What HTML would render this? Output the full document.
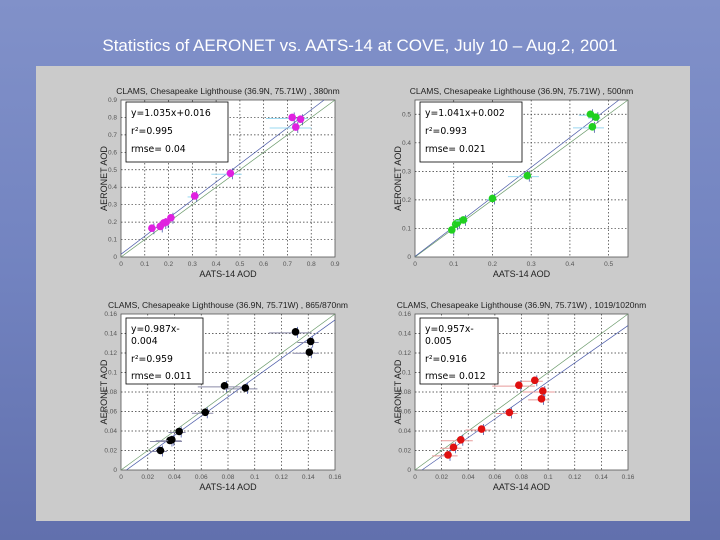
<!DOCTYPE html>
<html><head><meta charset="utf-8"><style>
body{margin:0;width:720px;height:540px;overflow:hidden;font-family:"Liberation Sans",sans-serif}
#bg{position:absolute;left:0;top:0;width:720px;height:540px;background:linear-gradient(180deg,#8191c9 0%,#7283c0 50%,#6170ad 100%)}
#title{position:absolute;left:0;width:720px;top:36px;text-align:center;color:#fff;font-size:17px}
#panel{position:absolute;left:36px;top:66px;width:654px;height:455px;background:#cbcbcb}
</style></head><body>
<div id="bg"></div>
<div id="title">Statistics of AERONET vs. AATS-14 at COVE, July 10 – Aug.2, 2001</div>
<div id="panel"></div>
<svg id="chart" width="720" height="540" style="position:absolute;left:0;top:0"></svg>
<script>
// 380nm
const x380 = [0.13,0.165,0.18,0.19,0.21,0.31,0.46,0.72,0.755,0.735];
const y380 = [0.165,0.175,0.195,0.2,0.225,0.35,0.48,0.80,0.79,0.745];
const e380 = [0.01,0.01,0.01,0.01,0.015,0.03,0.08,0.11,0.02,0.11];
// 500nm
const x500 = [0.095,0.105,0.11,0.125,0.2,0.29,0.453,0.467,0.458];
const y500 = [0.095,0.115,0.12,0.13,0.205,0.285,0.5,0.49,0.456];
const e500 = [0.01,0.01,0.01,0.02,0.015,0.05,0.03,0.02,0.05];
// 865/870nm
const x870 = [0.0295,0.0366,0.038,0.0435,0.063,0.0774,0.093,0.1305,0.1418,0.1408];
const y870 = [0.02,0.0303,0.031,0.0395,0.0592,0.0863,0.0842,0.1417,0.1318,0.1208];
const e870 = [0.008,0.015,0.012,0.008,0.01,0.02,0.015,0.02,0.01,0.012];
// 1019/1020nm
const x1020 = [0.0248,0.0289,0.0344,0.05,0.0709,0.078,0.09,0.096,0.095];
const y1020 = [0.0155,0.0233,0.031,0.042,0.059,0.087,0.092,0.081,0.073];
const e1020 = [0.012,0.01,0.015,0.012,0.01,0.02,0.01,0.015,0.01];
const ticks09 = ["0","0.1","0.2","0.3","0.4","0.5","0.6","0.7","0.8","0.9"];
const ticks05 = ["0","0.1","0.2","0.3","0.4","0.5"];
const ticks16 = ["0","0.02","0.04","0.06","0.08","0.1","0.12","0.14","0.16"];

const svg=document.getElementById('chart');
const NS='http://www.w3.org/2000/svg';
function mk(tag,attrs,parent){const e=document.createElementNS(NS,tag);for(const k in attrs)e.setAttribute(k,attrs[k]);(parent||svg).appendChild(e);return e;}

function panel(o){
  const g=mk('g',{});
  
  
  const sx=v=>o.x0+(v/o.max)*(o.x1-o.x0);
  const sy=v=>o.y1-(v/o.max)*(o.y1-o.y0);
  const bg=mk('rect',{x:o.x0,y:o.y0,width:o.x1-o.x0,height:o.y1-o.y0,fill:'#fff',stroke:'#555','stroke-width':0.8},g);
  
  
  o.ticks.forEach(t=>{
    const v=parseFloat(t);
    if(v>0&&v<o.max){
      mk('line',{x1:sx(v),x2:sx(v),y1:o.y0,y2:o.y1,stroke:'#333','stroke-width':0.7,'stroke-dasharray':'1.5,2'},g);
      mk('line',{x1:o.x0,x2:o.x1,y1:sy(v),y2:sy(v),stroke:'#333','stroke-width':0.7,'stroke-dasharray':'1.5,2'},g);
    }
    const tx=mk('text',{x:sx(v),y:o.y1+9,'font-size':6.5,fill:'#555','text-anchor':'middle'},g);tx.textContent=t;
    
    
    const ty=mk('text',{x:o.x0-4,y:sy(v)+2,'font-size':6.5,fill:'#555','text-anchor':'end'},g);ty.textContent=t;
    
    
  });
  mk('line',{x1:sx(0),y1:sy(0),x2:sx(o.max),y2:sy(o.max),stroke:'#6a9a6a','stroke-width':0.7},g);
  const fy=v=>o.a*v+o.b;
  let xa=Math.max(0,-o.b/o.a), xb=Math.min(o.max,(o.max-o.b)/o.a);
  const fl=mk('line',{x1:sx(xa),y1:sy(fy(xa)),x2:sx(xb),y2:sy(fy(xb)),stroke:'#4a5aa8','stroke-width':0.7},g);
  
  
  o.xs.forEach((xv,i)=>{
    const yv=o.ys[i], e=o.es[i];
    mk('line',{x1:sx(xv-e),x2:sx(xv+e*0.6),y1:sy(yv)+1,y2:sy(yv)+1,stroke:o.ecol,'stroke-width':1},g);
    mk('line',{x1:sx(xv)+2,x2:sx(xv)+2,y1:sy(yv)-5,y2:sy(yv)+6,stroke:'#4a5aa8','stroke-width':0.8},g);
    const c=mk('circle',{cx:sx(xv),cy:sy(yv),r:3.8,fill:o.col},g);
    
    
  });
  const t=mk('text',{x:(o.x0+o.x1)/2,y:o.y0-6,'font-size':8.5,fill:'#222','text-anchor':'middle'},g);t.textContent=o.title;
  
  
  const xt=mk('text',{x:(o.x0+o.x1)/2,y:o.y1+20,'font-size':9,fill:'#222','text-anchor':'middle'},g);xt.textContent='AATS-14 AOD';
  
  
  const cy=(o.y0+o.y1)/2;
  const yt=mk('text',{x:o.x0-14,y:cy,'font-size':9,fill:'#222','text-anchor':'middle',transform:`rotate(-90 ${o.x0-14} ${cy})`},g);yt.textContent='AERONET AOD';
  
  
  const bx=o.x0+5, by=o.y0+o.bt;
  const box=mk('rect',{x:bx,y:by,width:o.bw,height:o.bh,fill:'#fff',stroke:'#000','stroke-width':0.8},g);
  
  
  o.lines.forEach((l,i)=>{
    const s=mk('text',{x:bx+5,y:by+o.offs[i],'font-size':9.3,fill:'#000','font-family':'DejaVu Sans, sans-serif'},g);s.textContent=l;
    
    
  });
}
panel({name:'panel-380nm',x0:121,x1:335,y0:100,y1:257,max:0.9,ticks:ticks09,xs:x380,ys:y380,es:e380,col:'#e020e0',ecol:'#9ad8f0',a:1.035,b:0.016,title:'CLAMS, Chesapeake Lighthouse (36.9N, 75.71W) , 380nm',bt:2,bw:102,bh:60,offs:[14,32,50],lines:['y=1.035x+0.016','r²=0.995','rmse= 0.04']});
panel({name:'panel-500nm',x0:415,x1:628,y0:100,y1:257,max:0.55,ticks:ticks05,xs:x500,ys:y500,es:e500,col:'#20d020',ecol:'#9ad8f0',a:1.041,b:0.002,title:'CLAMS, Chesapeake Lighthouse (36.9N, 75.71W) , 500nm',bt:2,bw:102,bh:60,offs:[14,32,50],lines:['y=1.041x+0.002','r²=0.993','rmse= 0.021']});
panel({name:'panel-870nm',x0:121,x1:335,y0:314,y1:470,max:0.16,ticks:ticks16,xs:x870,ys:y870,es:e870,col:'#000',ecol:'#8a8aa8',a:0.987,b:-0.004,title:'CLAMS, Chesapeake Lighthouse (36.9N, 75.71W) , 865/870nm',bt:4,bw:77,bh:66,offs:[14,26,44,61],lines:['y=0.987x-','0.004','r²=0.959','rmse= 0.011']});
panel({name:'panel-1020nm',x0:415,x1:628,y0:314,y1:470,max:0.16,ticks:ticks16,xs:x1020,ys:y1020,es:e1020,col:'#e01010',ecol:'#e89a9a',a:0.957,b:-0.005,title:'CLAMS, Chesapeake Lighthouse (36.9N, 75.71W) , 1019/1020nm',bt:4,bw:78,bh:66,offs:[14,26,44,61],lines:['y=0.957x-','0.005','r²=0.916','rmse= 0.012']});
</script>
</body></html>
